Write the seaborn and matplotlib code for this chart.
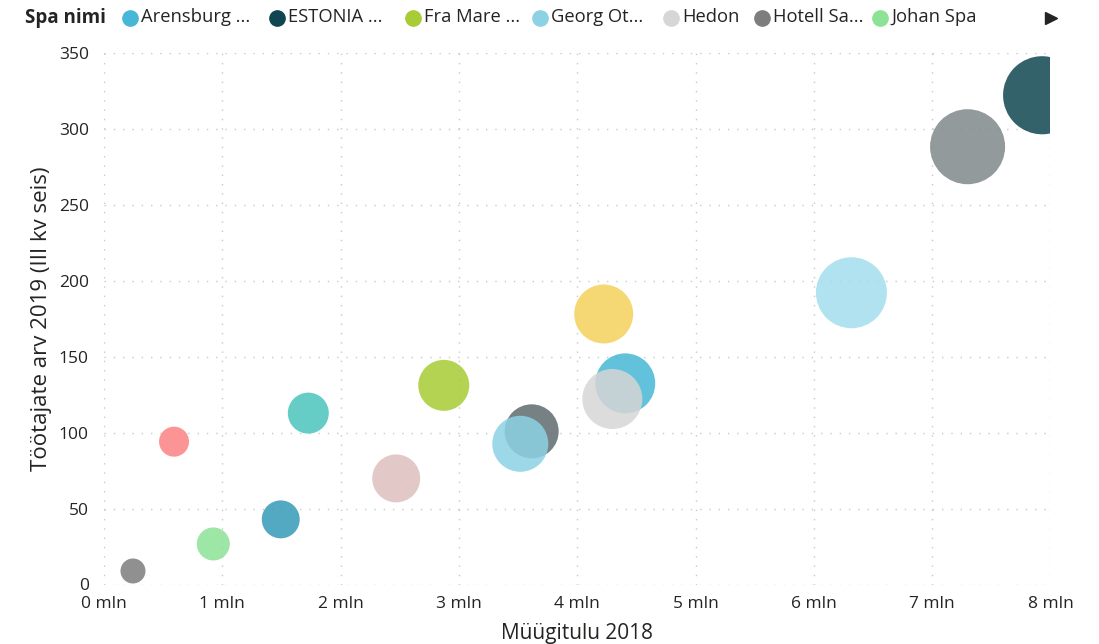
import pandas as pd
import matplotlib
matplotlib.use("Agg")
import matplotlib.pyplot as plt
from matplotlib.lines import Line2D
from matplotlib.ticker import FuncFormatter
import seaborn as sns

# data (x in mln eur, y = employees, size = bubble area, relative)
spa_names = ["Spa 08", "Spa 09", "Spa 10", "Spa 11", "Spa 12", "Spa 13", "Spa 14", "Spa 15",
             "Arensburg", "ESTONIA", "Fra Mare", "Georg Ots", "Hedon", "Hotell Saaremaa", "Johan Spa"]
muugitulu_mln = [0.592, 1.494, 1.727, 2.47, 4.224, 3.615, 6.318, 7.30,
                 4.406, 7.93, 2.872, 3.519, 4.297, 0.245, 0.924]
tootajad = [94.1, 42.9, 112.9, 69.9, 178.2, 100.9, 192.2, 288.4,
            132.5, 322.3, 131.2, 92.7, 122.2, 8.9, 26.7]
bubble_size = [9.0, 14.4, 16.8, 23.0, 34.8, 29.2, 50.4, 56.3,
               36.0, 61.0, 26.0, 31.4, 36.0, 6.25, 10.9]
spa_colors = ["#FB8281", "#3599B8", "#4AC5BB", "#DFBFBF", "#F4D25A", "#5F6B6D", "#A4DDEE", "#7F898A",
              "#46B8D5", "#0F4650", "#A8CC35", "#8CD2E4", "#D6D6D6", "#7D7D7D", "#8CE295"]

legend_names = ["Arensburg", "ESTONIA", "Fra Mare", "Georg Ots", "Hedon", "Hotell Saaremaa", "Johan Spa"]
legend_labels = ["Arensburg ...", "ESTONIA ...", "Fra Mare ...", "Georg Ot...", "Hedon", "Hotell Sa...", "Johan Spa"]
x_ticks = [0, 1, 2, 3, 4, 5, 6, 7, 8]
y_ticks = [0, 50, 100, 150, 200, 250, 300, 350]

df = pd.DataFrame({"spa": spa_names, "x": muugitulu_mln, "y": tootajad, "size": bubble_size})
palette = dict(zip(spa_names, spa_colors))

sns.set_style("white")
plt.rcParams["font.family"] = ["Open Sans", "DejaVu Sans"]
text_col = "#252423"

W, H, DPI = 1099, 644, 100
fig = plt.figure(figsize=(W / DPI, H / DPI), dpi=DPI)
ax = fig.add_axes([104 / W, 1 - 584.5 / H, (1050.4 - 104) / W, (584.5 - 53.2) / H])

# area in pt^2 : 1 px = 72/DPI pt, size value = (diameter_px/10)^2
pt = 72 / DPI
vmax = max(bubble_size)
sns.scatterplot(data=df, x="x", y="y", hue="spa", palette=palette, size="size",
                sizes=(0, vmax * 100 * pt * pt), size_norm=(0, vmax),
                alpha=0.85, linewidth=0, legend=False, ax=ax)

ax.set_xlim(0, 8)
ax.set_ylim(0, 350)
ax.set_xticks(x_ticks)
ax.set_yticks(y_ticks)
ax.xaxis.set_major_formatter(FuncFormatter(lambda v, p: f"{int(v)} mln"))
ax.tick_params(length=0, labelsize=12.5, labelcolor=text_col)
ax.tick_params(axis="x", pad=8)
ax.tick_params(axis="y", pad=11)
ax.grid(True, color="#C8C8C8", linewidth=1.0, linestyle=(0, (1, 5.7)))
ax.set_axisbelow(True)
for s in ax.spines.values():
    s.set_visible(False)

ax.set_xlabel("Müügitulu 2018", fontsize=15, color=text_col, labelpad=8)
ax.set_ylabel("Töötajate arv 2019 (III kv seis)", fontsize=16, color=text_col, labelpad=5)

# legend row on top
ly = 1 - 17.5 / H
fig.text(25 / W, ly, "Spa nimi", fontsize=13.5, fontweight="bold", color=text_col, va="center", ha="left")
legend_x = [130, 277, 413, 540, 671, 762, 880]
for name, lab, lx in zip(legend_names, legend_labels, legend_x):
    fig.add_artist(Line2D([lx / W], [ly], marker="o", markersize=11, color=palette[name],
                          linestyle="none", transform=fig.transFigure))
    fig.text((lx + 11) / W, ly, lab, fontsize=13.2, color=text_col, va="center", ha="left")
fig.add_artist(Line2D([1051 / W], [ly], marker=">", markersize=8, color="#252423",
                      linestyle="none", transform=fig.transFigure))

fig.savefig("out.png", dpi=DPI)
